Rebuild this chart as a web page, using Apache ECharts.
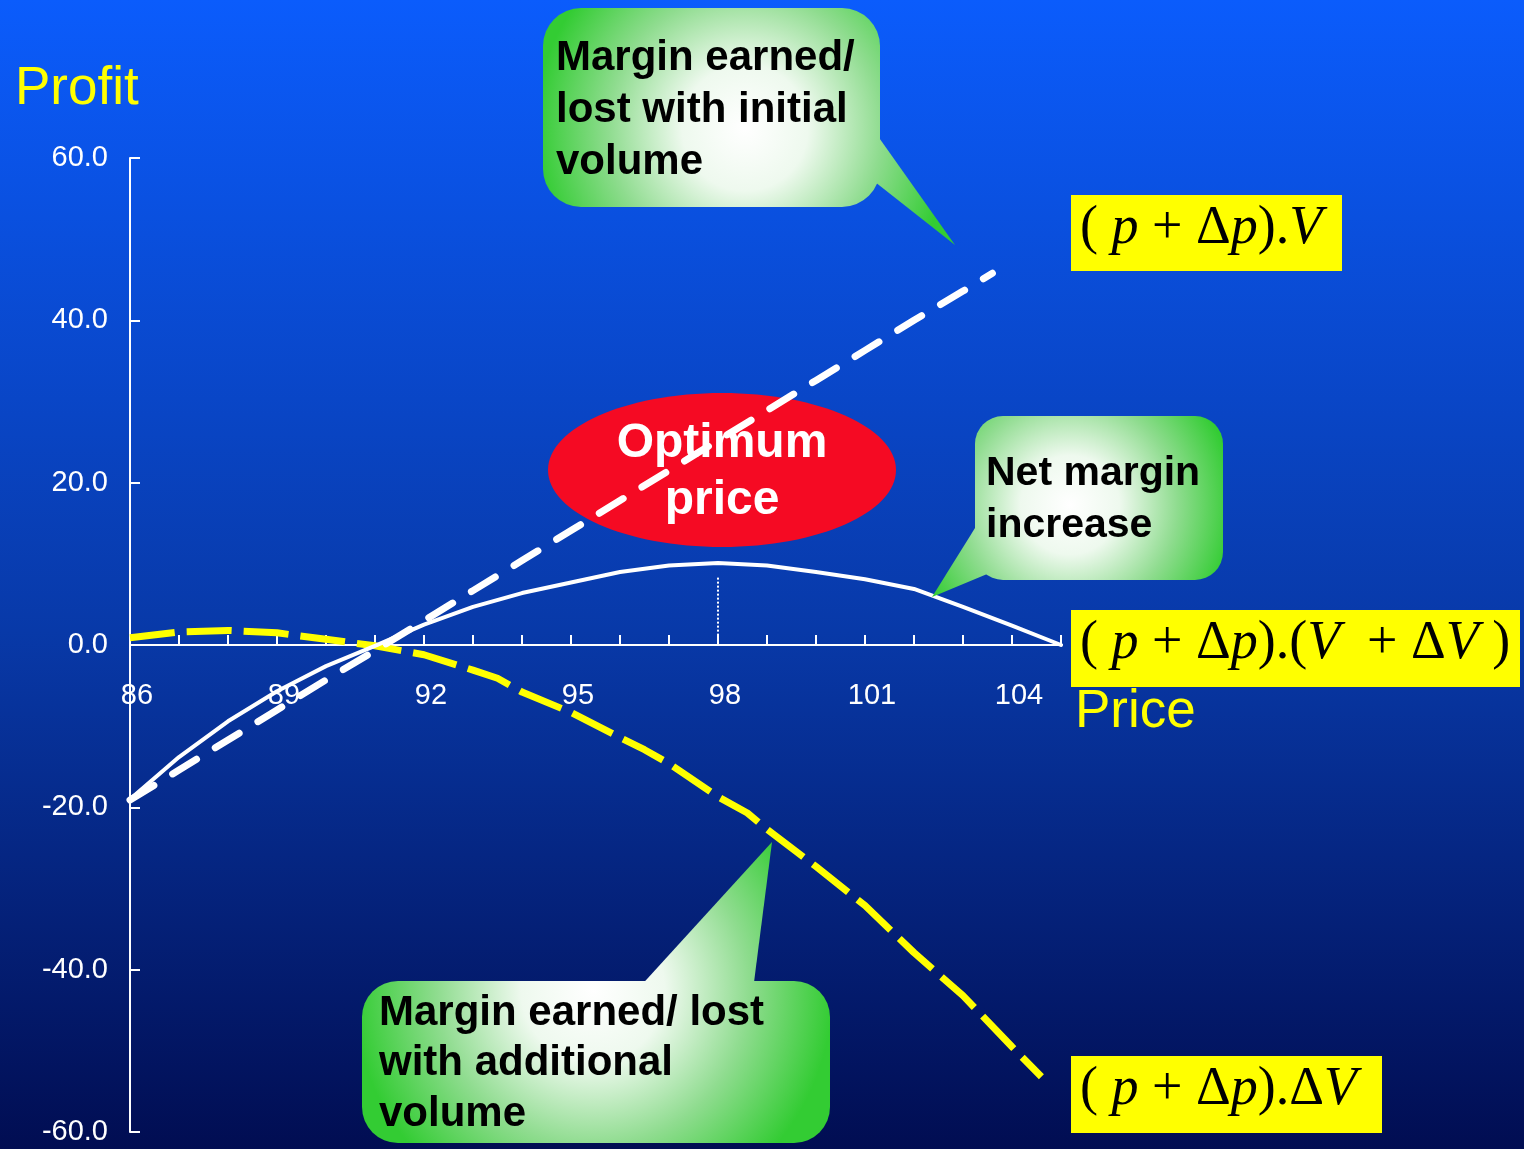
<!DOCTYPE html>
<html>
<head>
<meta charset="utf-8">
<title>Optimum price</title>
<script src="https://cdn.jsdelivr.net/npm/echarts@6/dist/echarts.min.js"></script>
<style>
    html, body { margin: 0; padding: 0; background: #062a88; }
    #chart { width: 1524px; height: 1149px; }
</style>
</head>
<body>
<div id="chart"></div>
<script>
// Margin earned/lost with initial volume: (p + dp).V
const initialPrice = [86, 87, 88, 89, 90, 91, 92, 93, 94, 95, 96, 97, 98, 99, 100, 101, 102, 103, 103.6];
const initialProfit = [-19.1, -15.4, -11.7, -8.0, -4.3, -0.7, 3.0, 6.7, 10.4, 14.1, 17.8, 21.5, 25.2, 28.9, 32.6, 36.3, 40.0, 43.6, 45.8];

// Margin earned/lost with additional volume: (p + dp).dV
const additionalPrice = [86, 87, 88, 89, 90, 91, 92, 93, 93.5, 94, 95, 96, 96.5, 97, 98, 98.6, 99, 100, 101, 102, 103, 104, 104.6];
const additionalProfit = [0.9, 1.6, 1.8, 1.5, 0.7, -0.1, -1.2, -3.1, -4.1, -5.8, -8.3, -11.4, -12.9, -14.6, -18.7, -20.7, -22.7, -27.3, -32.1, -37.9, -43.2, -49.5, -53.2];

// Net margin: (p + dp).(V + dV)
const netPrice = [86, 87, 88, 89, 90, 91, 92, 93, 94, 95, 96, 97, 98, 99, 100, 101, 102, 103, 104, 105];
const netProfit = [-19.0, -13.8, -9.4, -5.7, -2.6, -0.1, 2.5, 4.7, 6.4, 7.7, 9.0, 9.8, 10.1, 9.8, 9.0, 8.1, 6.9, 4.7, 2.4, 0.0];

// Optimum price marker (dotted drop line)
const optimumPrice = 98;
const optimumMarkTop = 8.3;

const yMin = -60, yMax = 60, yStep = 20;
const xMin = 86, xMax = 105, xLabelStep = 3;

function pairs(xs, ys) {
    return xs.map((x, i) => [x, ys[i]]);
}

const chart = echarts.init(document.getElementById('chart'));

const SANS = '"Liberation Sans", Arial, sans-serif';
const SERIF = '"Liberation Serif", "Times New Roman", serif';

const gridTop = 158, gridBottom = 17, chartHeight = 1149;
const plotHeight = chartHeight - gridTop - gridBottom;
// distance from the bottom of the plot up to the zero line
const zeroLift = plotHeight * (0 - yMin) / (yMax - yMin);

function calloutFill(cx, cy, r) {
    return {
        type: 'radial', x: cx, y: cy, r: r, global: true,
        colorStops: [
            { offset: 0, color: '#ffffff' },
            { offset: 0.3, color: '#eef9ee' },
            { offset: 0.65, color: '#8fdc8f' },
            { offset: 1, color: '#33cc33' }
        ]
    };
}

const mathRich = {
    n: { fontFamily: SERIF, fontSize: 54, fill: '#000' },
    i: { fontFamily: SERIF, fontSize: 54, fontStyle: 'italic', fill: '#000' }
};

const fill1 = calloutFill(745, 128, 210);
const fill2 = calloutFill(1070, 505, 165);
const fill3 = calloutFill(593, 990, 240);

const option = {
    animation: false,
    backgroundColor: {
        type: 'linear', x: 0, y: 0, x2: 0, y2: 1,
        colorStops: [
            { offset: 0, color: '#0b5cfc' },
            { offset: 0.55, color: '#0839a8' },
            { offset: 1, color: '#010d52' }
        ]
    },
    grid: { left: 130, right: 463, top: gridTop, bottom: gridBottom, containLabel: false, outerBoundsMode: 'none' },
    xAxis: [
        {
            type: 'value',
            min: xMin,
            max: xMax,
            interval: 1,
            splitLine: { show: false },
            axisLine: { show: true, onZero: true, lineStyle: { color: '#ffffff', width: 2 } },
            axisTick: { show: true, inside: true, length: 10, lineStyle: { color: '#ffffff', width: 2 } },
            axisLabel: { show: false }
        },
        {
            // label-only axis, lifted to sit under the zero line
            type: 'value',
            position: 'bottom',
            offset: -zeroLift,
            min: xMin,
            max: xMax,
            interval: 1,
            splitLine: { show: false },
            axisLine: { show: false, onZero: false },
            axisTick: { show: false },
            axisLabel: {
                color: '#ffffff',
                fontFamily: SANS,
                fontSize: 29,
                margin: 36,
                padding: [0, 0, 0, 14],
                formatter: function(v) {
                    return (v - xMin) % xLabelStep === 0 && v < xMax ? String(v) : '';
                }
            }
        }
    ],
    yAxis: {
        type: 'value',
        min: yMin,
        max: yMax,
        interval: yStep,
        splitLine: { show: false },
        axisLine: { show: true, lineStyle: { color: '#ffffff', width: 2 } },
        axisTick: { show: true, inside: true, length: 10, lineStyle: { color: '#ffffff', width: 2 } },
        axisLabel: {
            color: '#ffffff',
            fontFamily: SANS,
            fontSize: 29,
            margin: 22,
            formatter: v => v.toFixed(1)
        }
    },
    series: [
        {
            name: 'Additional volume',
            type: 'line',
            data: pairs(additionalPrice, additionalProfit),
            showSymbol: false,
            z: 3,
            lineStyle: { color: '#ffff00', width: 7, type: [45, 12], cap: 'butt' }
        },
        {
            name: 'Initial volume',
            type: 'line',
            data: pairs(initialPrice, initialProfit),
            showSymbol: false,
            z: 4,
            lineStyle: { color: '#ffffff', width: 7, type: [28, 22], cap: 'round' }
        },
        {
            name: 'Net margin',
            type: 'line',
            data: pairs(netPrice, netProfit),
            showSymbol: false,
            z: 5,
            lineStyle: { color: '#ffffff', width: 4, cap: 'round', join: 'round' },
            markLine: {
                silent: true,
                symbol: 'none',
                label: { show: false },
                lineStyle: { color: '#ffffff', width: 2, type: 'dotted' },
                data: [[{ coord: [optimumPrice, optimumMarkTop] }, { coord: [optimumPrice, 0] }]]
            }
        }
    ],
    graphic: [
        // axis titles
        {
            type: 'text', x: 15, y: 89, z: 10,
            style: {
                text: 'Profit', font: '53px ' + SANS, fill: '#ffff00', verticalAlign: 'middle',
                textShadowColor: '#000', textShadowOffsetX: 3, textShadowOffsetY: 3
            }
        },
        {
            type: 'text', x: 1075, y: 712, z: 10,
            style: {
                text: 'Price', font: '53px ' + SANS, fill: '#ffff00', verticalAlign: 'middle',
                textShadowColor: '#000', textShadowOffsetX: 3, textShadowOffsetY: 3
            }
        },
        // optimum price ellipse
        {
            type: 'ellipse', z: 1,
            shape: { cx: 722, cy: 470, rx: 174, ry: 77 },
            style: { fill: '#f50a23' }
        },
        {
            type: 'text', x: 722, y: 472, z: 10,
            style: {
                text: 'Optimum\nprice', font: 'bold 48px ' + SANS, fill: '#ffffff',
                align: 'center', verticalAlign: 'middle', lineHeight: 57,
                textShadowColor: '#000', textShadowOffsetX: 3, textShadowOffsetY: 3
            }
        },
        // callout: initial volume
        { type: 'polygon', z: 6, shape: { points: [[870, 125], [955, 245], [870, 178]] }, style: { fill: fill1 } },
        { type: 'rect', z: 6, shape: { x: 543, y: 8, width: 337, height: 199, r: 38 }, style: { fill: fill1 } },
        {
            type: 'text', x: 556, y: 32, z: 7,
            style: { text: 'Margin earned/\nlost with initial\nvolume', font: 'bold 42px ' + SANS, fill: '#000', verticalAlign: 'top', lineHeight: 52 }
        },
        // callout: net margin
        { type: 'polygon', z: 6, shape: { points: [[985, 512], [932, 597], [992, 572]] }, style: { fill: fill2 } },
        { type: 'rect', z: 6, shape: { x: 975, y: 416, width: 248, height: 164, r: 28 }, style: { fill: fill2 } },
        {
            type: 'text', x: 986, y: 448, z: 7,
            style: { text: 'Net margin\nincrease', font: 'bold 41px ' + SANS, fill: '#000', verticalAlign: 'top', lineHeight: 52 }
        },
        // callout: additional volume
        { type: 'polygon', z: 6, shape: { points: [[637, 990], [772, 842], [753, 990]] }, style: { fill: fill3 } },
        { type: 'rect', z: 6, shape: { x: 362, y: 981, width: 468, height: 162, r: 36 }, style: { fill: fill3 } },
        {
            type: 'text', x: 379, y: 988, z: 7,
            style: { text: 'Margin earned/ lost\nwith additional\nvolume', font: 'bold 42px ' + SANS, fill: '#000', verticalAlign: 'top', lineHeight: 50.5 }
        },
        // formula boxes
        { type: 'rect', z: 6, shape: { x: 1071, y: 195, width: 271, height: 76 }, style: { fill: '#ffff00' } },
        {
            type: 'text', x: 1080, y: 229, z: 7,
            style: { text: '{n|(}{i| p}{n| + Δ}{i|p}{n|).}{i|V}', rich: mathRich, verticalAlign: 'middle' }
        },
        { type: 'rect', z: 6, shape: { x: 1071, y: 610, width: 449, height: 77 }, style: { fill: '#ffff00' } },
        {
            type: 'text', x: 1080, y: 644, z: 7,
            style: { text: '{n|(}{i| p}{n| + Δ}{i|p}{n|).(}{i|V}{n|  + Δ}{i|V}{n| )}', rich: mathRich, verticalAlign: 'middle' }
        },
        { type: 'rect', z: 6, shape: { x: 1071, y: 1056, width: 311, height: 77 }, style: { fill: '#ffff00' } },
        {
            type: 'text', x: 1080, y: 1090, z: 7,
            style: { text: '{n|(}{i| p}{n| + Δ}{i|p}{n|).Δ}{i|V}', rich: mathRich, verticalAlign: 'middle' }
        }
    ]
};

chart.setOption(option);
</script>
</body>
</html>
